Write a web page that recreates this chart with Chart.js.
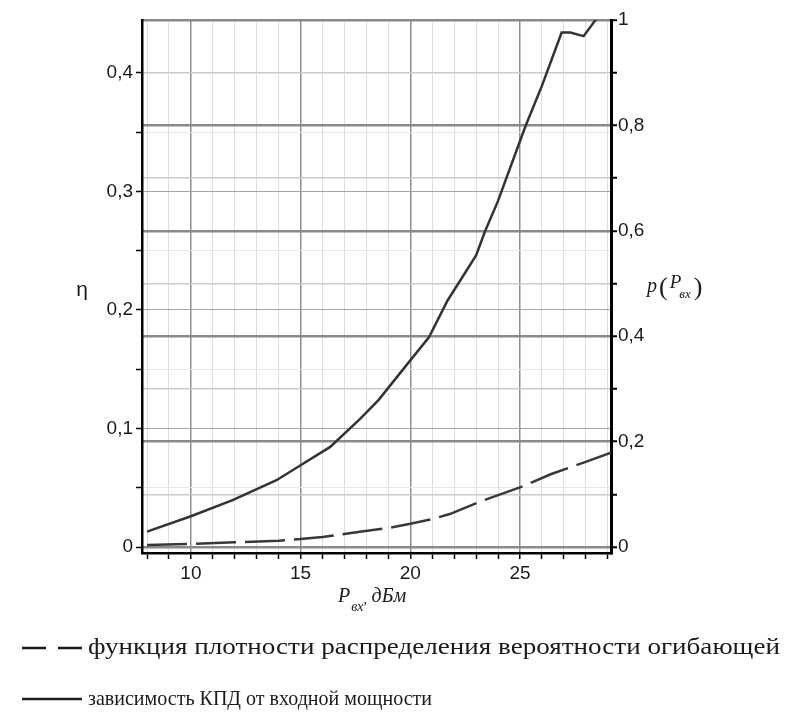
<!DOCTYPE html>
<html>
<head>
<meta charset="utf-8">
<script src="https://cdn.jsdelivr.net/npm/chart.js@4.4.1/dist/chart.umd.min.js"></script>
<style>
  html, body { margin: 0; padding: 0; background: #fff; }
  #wrap { width: 790px; height: 717px; }
</style>
</head>
<body>
<div id="wrap"><canvas id="effChart" width="790" height="717"></canvas></div>
<script>
// Input power, dBm (solid curve sample points)
const etaPower = [8, 10, 11.9, 13.9, 15, 16.35, 17.7, 18.55, 20, 20.85, 21.7, 23, 23.4, 24, 25.25, 26, 26.9, 27.3, 27.9, 28.5];
// Efficiency eta (left axis)
const etaValues = [0.013, 0.026, 0.0396, 0.0564, 0.069, 0.0845, 0.108, 0.124, 0.1575, 0.177, 0.208, 0.246, 0.266, 0.292, 0.355, 0.389, 0.434, 0.434, 0.431, 0.446];

// Input power, dBm (dashed curve sample points)
const densPower = [8, 10, 12, 14, 15, 16, 17.7, 19, 20, 21, 21.8, 23.3, 25, 26.4, 27.9, 29.15];
// Envelope probability density p(Pin) (right axis)
const densValues = [0.004, 0.006, 0.009, 0.012, 0.015, 0.019, 0.029, 0.036, 0.044, 0.053, 0.0625, 0.088, 0.113, 0.138, 0.16, 0.179];

const xTickLabels = [10, 15, 20, 25];
const etaTickLabels = [0, 0.1, 0.2, 0.3, 0.4];
const pTickLabels = [0, 0.2, 0.4, 0.6, 0.8, 1];

const seriesNames = [
    'функция плотности распределения вероятности огибающей',
    'зависимость КПД от входной мощности'
];

const near = (a, b) => Math.abs(a - b) < 1e-6;
const commaNum = v => (near(v, 0) ? '0' : near(v, 1) ? '1' : v.toFixed(1).replace('.', ','));

// Axis titles with subscripts are drawn on the canvas after the chart
const axisTitles = {
    id: 'axisTitles',
    afterDraw(chart) {
        const ctx = chart.ctx;
        ctx.save();
        ctx.fillStyle = '#1a1a1a';
        ctx.textBaseline = 'alphabetic';

        // eta, left
        ctx.font = '21px "Liberation Sans"';
        ctx.textAlign = 'center';
        ctx.fillText('η', 82, 296);

        // P_вх, дБм under the x axis
        let x = 338, y = 602;
        ctx.textAlign = 'left';
        ctx.font = 'italic 20px "Liberation Serif"';
        ctx.fillText('P', x, y);
        x += ctx.measureText('P').width + 1;
        ctx.font = 'italic 14px "Liberation Serif"';
        ctx.fillText('вх', x, y + 9);
        x += ctx.measureText('вх').width;
        ctx.fillText(',', x, y + 2);
        x += 8;
        ctx.font = 'italic 20px "Liberation Serif"';
        ctx.fillText('дБм', x, y);

        // p(P_вх), right
        x = 647; y = 292;
        ctx.font = 'italic 20px "Liberation Serif"';
        ctx.fillText('p', x, y);
        x += ctx.measureText('p').width + 2;
        ctx.font = '26px "Liberation Serif"';
        ctx.fillText('(', x, y + 3);
        x += ctx.measureText('(').width + 2;
        ctx.font = 'italic 19px "Liberation Serif"';
        ctx.fillText('P', x, y - 4);
        x += ctx.measureText('P').width - 2;
        ctx.font = 'italic 13px "Liberation Serif"';
        ctx.fillText('вх', x, y + 6);
        x += ctx.measureText('вх').width + 3;
        ctx.font = '26px "Liberation Serif"';
        ctx.fillText(')', x, y + 3);
        ctx.restore();
    }
};

// Two-row key under the plot: line sample + series name, each name set to its row width
const seriesKey = {
    id: 'seriesKey',
    afterDraw(chart) {
        const ctx = chart.ctx;
        const rows = [
            { y: 648, dash: [24, 12], font: 23, width: 692 },
            { y: 699, dash: [], font: 22, width: 344 }
        ];
        ctx.save();
        chart.data.datasets.forEach((ds, i) => {
            const r = rows[i];
            ctx.strokeStyle = '#1a1a1a';
            ctx.lineWidth = 2.5;
            ctx.setLineDash(r.dash);
            ctx.beginPath();
            ctx.moveTo(22, r.y);
            ctx.lineTo(82, r.y);
            ctx.stroke();
            ctx.setLineDash([]);

            ctx.fillStyle = '#1a1a1a';
            ctx.font = r.font + 'px "Liberation Serif"';
            ctx.textAlign = 'left';
            ctx.textBaseline = 'middle';
            const sx = r.width / ctx.measureText(ds.label).width;
            ctx.save();
            ctx.translate(88, r.y);
            ctx.scale(sx, 1);
            ctx.fillText(ds.label, 0, 0);
            ctx.restore();
        });
        ctx.restore();
    }
};

document.addEventListener('DOMContentLoaded', () => {
    const ctx = document.getElementById('effChart');

    new Chart(ctx, {
        type: 'line',
        data: {
            datasets: [{
                label: seriesNames[0],
                data: densPower.map((p, i) => ({ x: p, y: densValues[i] })),
                yAxisID: 'yP',
                borderColor: '#383838',
                borderWidth: 2.5,
                borderDash: [40, 9],
                pointRadius: 0,
                tension: 0
            }, {
                label: seriesNames[1],
                data: etaPower.map((p, i) => ({ x: p, y: etaValues[i] })),
                yAxisID: 'y',
                borderColor: '#333333',
                borderWidth: 2.5,
                pointRadius: 0,
                tension: 0
            }]
        },
        options: {
            responsive: false,
            animation: false,
            layout: { padding: { left: 0, right: 0, top: 20, bottom: 0 } },
            plugins: {
                tooltip: { enabled: false },
                legend: { display: false }
            },
            scales: {
                x: {
                    type: 'linear',
                    min: 7.77,
                    max: 29.15,
                    afterFit(scale) { scale.height = 717 - 553; },
                    ticks: {
                        stepSize: 1,
                        includeBounds: false,
                        autoSkip: false,
                        maxRotation: 0,
                        padding: 3,
                        color: '#1a1a1a',
                        font: { family: '"Liberation Sans"', size: 19 },
                        callback: v => (xTickLabels.includes(v) ? String(v) : '')
                    },
                    grid: {
                        color: c => (c.tick && c.tick.value % 5 === 0 ? '#8e8e8e' : '#dedede'),
                        lineWidth: c => (c.tick && c.tick.value % 5 === 0 ? 1.5 : 1),
                        tickColor: '#000',
                        tickLength: 6,
                        tickWidth: 1.5
                    },
                    border: { color: '#000', width: 2.5 }
                },
                y: {
                    position: 'left',
                    min: -0.005,
                    max: 0.4446,
                    afterFit(scale) { scale.width = 142; },
                    ticks: {
                        stepSize: 0.05,
                        includeBounds: false,
                        autoSkip: false,
                        padding: 3,
                        color: '#1a1a1a',
                        font: { family: '"Liberation Sans"', size: 19 },
                        callback: v => (etaTickLabels.some(t => near(t, v)) ? commaNum(v) : '')
                    },
                    grid: {
                        color: c => (c.tick && etaTickLabels.some(t => near(t, c.tick.value)) ? '#a4a4a4' : '#e8e8e8'),
                        lineWidth: 1,
                        tickColor: '#000',
                        tickLength: 6,
                        tickWidth: 1.5
                    },
                    border: { color: '#000', width: 2.5 }
                },
                yP: {
                    position: 'right',
                    min: -0.0114,
                    max: 1,
                    afterFit(scale) { scale.width = 790 - 611; },
                    ticks: {
                        stepSize: 0.1,
                        includeBounds: false,
                        autoSkip: false,
                        padding: 1,
                        color: '#1a1a1a',
                        font: { family: '"Liberation Sans"', size: 19 },
                        callback: v => (pTickLabels.some(t => near(t, v)) ? commaNum(v) : '')
                    },
                    grid: {
                        color: c => (c.tick && pTickLabels.some(t => near(t, c.tick.value)) ? '#8a8a8a' : '#cacaca'),
                        lineWidth: c => (c.tick && pTickLabels.some(t => near(t, c.tick.value)) ? 2.5 : 1.5),
                        tickColor: '#000',
                        tickLength: 6,
                        tickWidth: 2
                    },
                    border: { color: '#000', width: 3 }
                }
            }
        },
        plugins: [axisTitles, seriesKey]
    });
});
</script>
</body>
</html>
